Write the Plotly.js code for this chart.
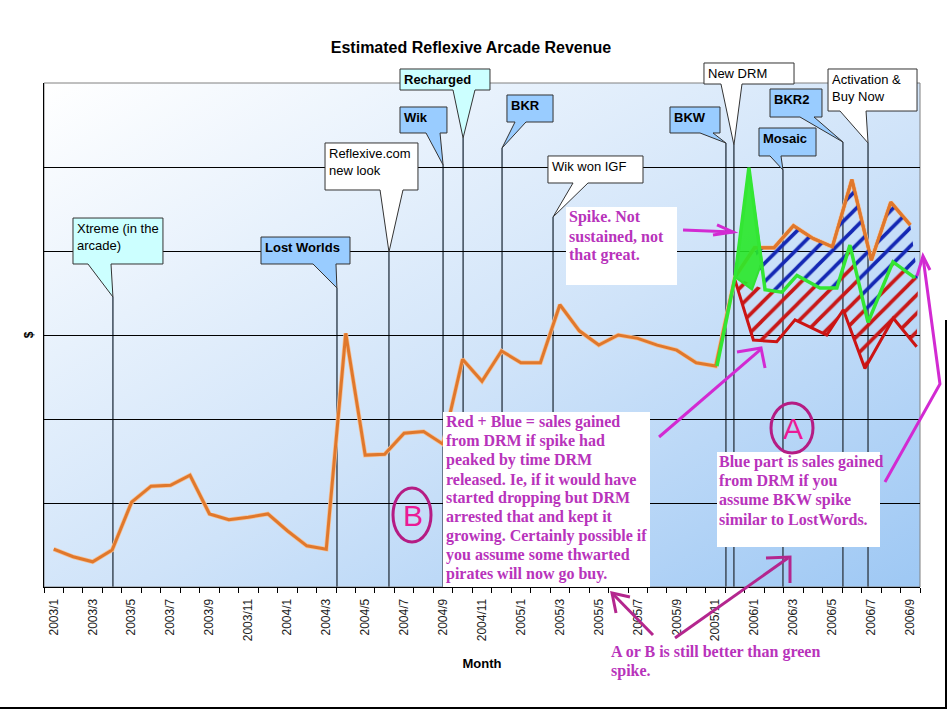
<!DOCTYPE html>
<html>
<head>
<meta charset="utf-8">
<script src="https://cdn.plot.ly/plotly-3.0.1.min.js"></script>
<style>
html, body { margin: 0; padding: 0; background: #fff; }
#chart { width: 948px; height: 710px; }
</style>
</head>
<body>
<div id="chart"></div>
<script>
// months on the category axis
var months = [
  '2003/1','2003/2','2003/3','2003/4','2003/5','2003/6','2003/7','2003/8','2003/9','2003/10','2003/11','2003/12',
  '2004/1','2004/2','2004/3','2004/4','2004/5','2004/6','2004/7','2004/8','2004/9','2004/10','2004/11','2004/12',
  '2005/1','2005/2','2005/3','2005/4','2005/5','2005/6','2005/7','2005/8','2005/9','2005/10','2005/11','2005/12',
  '2006/1','2006/2','2006/3','2006/4','2006/5','2006/6','2006/7','2006/8','2006/9'
];
// estimated revenue, in gridline units (no $ scale on the original)
var revenue = [
  0.45, 0.36, 0.30, 0.44, 1.01, 1.20, 1.21, 1.33, 0.87, 0.80, 0.83, 0.87,
  0.67, 0.49, 0.45, 3.02, 1.57, 1.58, 1.83, 1.85, 1.70, 2.71, 2.45, 2.81,
  2.67, 2.67, 3.36, 3.05, 2.88, 3.00, 2.96, 2.88, 2.82, 2.67, 2.63, 3.69,
  4.04, 4.04, 4.30, 4.15, 4.05, 4.85, 3.89, 4.58, 4.31
];

// hand drawn green "spike" line (x in month index)
var greenX = [34.07, 35.00, 35.71, 36.54, 37.41, 38.18, 39.36, 40.23, 40.90, 41.83, 43.11, 44.24];
var greenY = [2.63, 3.69, 4.99, 3.54, 3.51, 3.71, 3.56, 3.56, 4.07, 3.15, 3.87, 3.68];
// scribbled fill of the spike
var spikeX = [35.00, 35.71, 36.38, 35.87, 35.00];
var spikeY = [3.69, 4.99, 3.87, 3.54, 3.69];
// hand drawn red line ("spike had peaked")
var redX = [35.00, 35.94, 37.14, 38.08, 39.71, 40.56, 41.67, 43.13, 44.33];
var redY = [3.65, 2.94, 2.92, 3.18, 3.00, 3.30, 2.60, 3.20, 2.86];
// upper edge of the red hatching / lower edge of the blue hatching
var midX = [35.00, 36.54, 37.41, 38.18, 39.36, 40.23, 40.90, 41.83, 43.11, 44.40];
var midY = [3.69, 3.54, 3.51, 3.71, 3.56, 3.56, 4.07, 3.15, 3.87, 3.66];

// events marked on the chart
var eventLabels = ['Xtreme (in the<br>arcade)', 'Lost Worlds', 'Reflexive.com<br>new look', 'Wik', 'Recharged', 'BKR',
  'Wik won IGF', 'BKW', 'New DRM', 'Mosaic', 'BKR2', 'Activation &amp;<br>Buy Now'];
var eventBold = [false, true, false, true, true, true, false, true, false, true, true, false];
var eventX = [3.04, 14.55, 17.22, 20.0, 21.03, 23.03, 25.65, 34.53, 34.94, 37.46, 40.54, 41.83];

// callout geometry in page pixels: box [x0,y0,x1,y1], wedge base [b1,b2], tip y
var calloutBox = [
  [73,218,163,264], [261,237,350,264], [325,143,418,190], [400,107,447,133], [400,69,490,90], [507,95,553,122],
  [548,156,643,183], [670,107,720,133], [704,63,794,84], [759,128,816,156], [770,89,822,117], [828,69,917,111]
];
var calloutWedge = [[88,111],[313,336],[380,403],[426,440],[453,475],[515,526],[573,588],[700,713],[721,742],[770,781],[800,814],[840,866]];
var calloutTip = [297, 288, 252, 165, 138, 148, 217, 143, 145, 170, 142, 143];
var calloutFill = ['#ccffff','#99ccff','#ffffff','#99ccff','#ccffff','#99ccff','#ffffff','#99ccff','#ffffff','#99ccff','#99ccff','#ffffff'];

// plot area in page pixels
var L = 44, T = 83, R = 920, B = 587;
function px(x) { return (x - L) / (R - L); }
function py(y) { return (B - y) / (B - T); }
function path(pts, close) {
  var s = pts.map(function(p, i) { return (i ? 'L' : 'M') + px(p[0]).toFixed(4) + ',' + py(p[1]).toFixed(4); }).join(' ');
  return close ? s + ' Z' : s;
}

var fontSans = 'Liberation Sans, Arial, sans-serif';
var fontSerif = 'Liberation Serif, Times New Roman, serif';
var magenta = '#d22ad2';
var plum = '#b4268e';

var idx = months.map(function(m, i) { return i; });

// hatch polygons: red between red line and mid line, blue between mid line and orange
var redHatchX = redX.concat(midX.slice().reverse());
var redHatchY = redY.concat(midY.slice().reverse());
var blueHatchX = midX.slice(1).concat(idx.slice(36).reverse());
var blueHatchY = midY.slice(1).concat(revenue.slice(36).reverse());

var traces = [
  { x: idx, y: revenue, type: 'scatter', mode: 'lines', line: { color: '#f4c29a', width: 4.5 }, hoverinfo: 'skip' },
  { x: idx, y: revenue, type: 'scatter', mode: 'lines', line: { color: '#e0782c', width: 3 } },
  { x: redHatchX, y: redHatchY, type: 'scatter', mode: 'lines', line: { width: 0 }, fill: 'toself',
    fillcolor: 'rgba(0,0,0,0)',
    fillpattern: { shape: '/', size: 13, solidity: 0.28, fgcolor: '#c81818', bgcolor: 'rgba(0,0,0,0)' }, hoverinfo: 'skip' },
  { x: blueHatchX, y: blueHatchY, type: 'scatter', mode: 'lines', line: { width: 0 }, fill: 'toself',
    fillcolor: 'rgba(0,0,0,0)',
    fillpattern: { shape: '/', size: 13, solidity: 0.28, fgcolor: '#1428b4', bgcolor: 'rgba(0,0,0,0)' }, hoverinfo: 'skip' },
  { x: idx.slice(35), y: revenue.slice(35), type: 'scatter', mode: 'lines', line: { color: '#e0782c', width: 3 } },
  { x: redX, y: redY, type: 'scatter', mode: 'lines', line: { color: '#cc1414', width: 3 } },
  { x: spikeX, y: spikeY, type: 'scatter', mode: 'lines', fill: 'toself', fillcolor: 'rgba(40,232,40,0.9)',
    line: { color: '#33e033', width: 2 } },
  { x: greenX, y: greenY, type: 'scatter', mode: 'lines', line: { color: '#33e633', width: 3.5 } }
];

var shapes = [];
var annotations = [];

// vertical event lines
eventX.forEach(function(x, i) {
  shapes.push({ type: 'line', xref: 'x', yref: 'paper', x0: x, x1: x, y0: 0, y1: py(calloutTip[i]),
    line: { color: '#3d4a58', width: 1.5 }, layer: 'between' });
});
// plot border
shapes.push({ type: 'rect', xref: 'paper', yref: 'paper', x0: 0, x1: 1, y0: 0, y1: 1,
  line: { color: '#808080', width: 1 }, layer: 'between' });

// callout boxes with wedge pointers
calloutBox.forEach(function(b, i) {
  var w = calloutWedge[i];
  var tip = [L + (eventX[i] + 0.5) * (R - L) / months.length, calloutTip[i]];
  var pts = [[b[0], b[1]], [b[2], b[1]], [b[2], b[3]], [w[1], b[3]], tip, [w[0], b[3]], [b[0], b[3]]];
  shapes.push({ type: 'path', xref: 'paper', yref: 'paper', path: path(pts, true),
    fillcolor: calloutFill[i], line: { color: '#333', width: 1 }, layer: 'above' });
  annotations.push({ xref: 'paper', yref: 'paper', x: px(b[0] + 2), y: py(b[1] + 1), xanchor: 'left', yanchor: 'top',
    align: 'left', showarrow: false,
    text: eventBold[i] ? '<b>' + eventLabels[i] + '</b>' : eventLabels[i],
    font: { family: fontSans, size: 13, color: '#000' } });
});

// white boxes under the handwritten notes
[[566,207,677,285], [443,412,650,587], [717,452,880,547]].forEach(function(b) {
  shapes.push({ type: 'rect', xref: 'paper', yref: 'paper', x0: px(b[0]), x1: px(b[2]), y0: py(b[3]), y1: py(b[1]),
    fillcolor: '#fff', line: { width: 0 }, layer: 'above' });
});

// handwritten arrows
var strokes = [
  { pts: [[683,230],[733,232]], c: magenta }, { pts: [[717,225],[733,232],[713,235]], c: magenta },
  { pts: [[659,437],[761,349]], c: magenta }, { pts: [[737,352],[761,348],[765,368]], c: magenta },
  { pts: [[653,635],[612,593]], c: plum }, { pts: [[630,597],[612,593],[616,613]], c: plum },
  { pts: [[675,638],[788,558]], c: plum }, { pts: [[766,558],[790,557],[790,583]], c: plum },
  { pts: [[885,482],[940,384],[923,257]], c: magenta }, { pts: [[917,276],[923,256],[930,270]], c: magenta }
];
strokes.forEach(function(s) {
  shapes.push({ type: 'path', xref: 'paper', yref: 'paper', path: path(s.pts, false),
    line: { color: s.c, width: 3 }, layer: 'above' });
});

// circled A and B
[[412,515,19,27,'B'], [792,428,21,25,'A']].forEach(function(c) {
  shapes.push({ type: 'circle', xref: 'paper', yref: 'paper', x0: px(c[0] - c[2]), x1: px(c[0] + c[2]),
    y0: py(c[1] + c[3]), y1: py(c[1] - c[3]), line: { color: '#b51c84', width: 3 }, layer: 'above' });
  annotations.push({ xref: 'paper', yref: 'paper', x: px(c[0] + 1), y: py(c[1]), xanchor: 'center', yanchor: 'middle',
    showarrow: false, text: c[4], font: { family: fontSans, size: 30, color: '#ea1a96' } });
});

// handwritten notes, one line each
var notes = [
  [567, 217, ['Spike. Not', 'sustained, not', 'that great.']],
  [444, 422, ['Red + Blue = sales gained', 'from DRM if spike had', 'peaked by time DRM', 'released. Ie, if it would have',
    'started dropping but DRM', 'arrested that and kept it', 'growing. Certainly possible if', 'you assume some thwarted',
    'pirates will now go buy.']],
  [717, 462, ['Blue part is sales gained', 'from DRM if you', 'assume BKW spike', 'similar to LostWords.']],
  [609, 652, ['A or B is still better than green', 'spike.']]
];
notes.forEach(function(n) {
  n[2].forEach(function(line, j) {
    annotations.push({ xref: 'paper', yref: 'paper', x: px(n[0]), y: py(n[1] + j * 19), xanchor: 'left', yanchor: 'middle',
      align: 'left', showarrow: false, text: '<b>' + line + '</b>',
      font: { family: fontSerif, size: 16, color: '#b833bb' } });
  });
});

// frame at the right and bottom edges
shapes.push({ type: 'line', xref: 'paper', yref: 'paper', x0: px(946), x1: px(946), y0: py(320), y1: py(709),
  line: { color: '#000', width: 2 }, layer: 'above' });
shapes.push({ type: 'line', xref: 'paper', yref: 'paper', x0: px(0), x1: px(947), y0: py(708), y1: py(708),
  line: { color: '#000', width: 2 }, layer: 'above' });

var bgSvg = '<svg xmlns="http://www.w3.org/2000/svg" width="100" height="100" viewBox="0 0 100 100" preserveAspectRatio="none">' +
  '<defs><linearGradient id="g" x1="0" y1="0" x2="1" y2="1">' +
  '<stop offset="0" stop-color="#ffffff"/><stop offset="0.55" stop-color="#cfe3f9"/><stop offset="1" stop-color="#9ec8f4"/>' +
  '</linearGradient></defs><rect width="100" height="100" fill="url(#g)"/></svg>';

var tickIdx = idx.filter(function(i) { return i % 2 === 0; });
var bounds = [];
for (var k = 0; k <= months.length; k++) bounds.push(k - 0.5);

var layout = {
  width: 948,
  height: 710,
  margin: { l: L, r: 948 - R, t: T, b: 710 - B },
  paper_bgcolor: '#fff',
  plot_bgcolor: 'rgba(0,0,0,0)',
  showlegend: false,
  title: {
    text: '<b>Estimated Reflexive Arcade Revenue</b>',
    font: { family: fontSans, size: 16, color: '#000' },
    x: 471 / 948, xref: 'container', xanchor: 'center',
    y: 1 - 47 / 710, yref: 'container', yanchor: 'middle'
  },
  xaxis: {
    range: [-0.5, months.length - 0.5],
    tickvals: tickIdx,
    ticktext: tickIdx.map(function(i) { return months[i]; }),
    tickangle: -90,
    ticks: 'outside', ticklen: 6, tickcolor: 'rgba(0,0,0,0)',
    tickfont: { family: fontSans, size: 12, color: '#222' },
    minor: { tickvals: bounds, ticks: 'outside', ticklen: 5, tickcolor: '#000', showgrid: false },
    showgrid: false, zeroline: false,
    showline: true, linecolor: '#000', linewidth: 1,
    title: { text: '<b>Month</b>', font: { family: fontSans, size: 13, color: '#000' }, standoff: 18 }
  },
  yaxis: {
    range: [0, 6],
    dtick: 1,
    showticklabels: false,
    showgrid: true, gridcolor: '#000', gridwidth: 1,
    zeroline: false,
    showline: true, linecolor: '#000', linewidth: 1,
    title: { text: '<b>$</b>', font: { family: fontSans, size: 12, color: '#000' }, standoff: 6 }
  },
  images: [{
    source: 'data:image/svg+xml;charset=utf-8,' + encodeURIComponent(bgSvg),
    xref: 'paper', yref: 'paper', x: 0, y: 1, sizex: 1, sizey: 1,
    sizing: 'stretch', xanchor: 'left', yanchor: 'top', layer: 'below'
  }],
  shapes: shapes,
  annotations: annotations
};

Plotly.newPlot('chart', traces, layout, { displayModeBar: false, staticPlot: true });
</script>
</body>
</html>
